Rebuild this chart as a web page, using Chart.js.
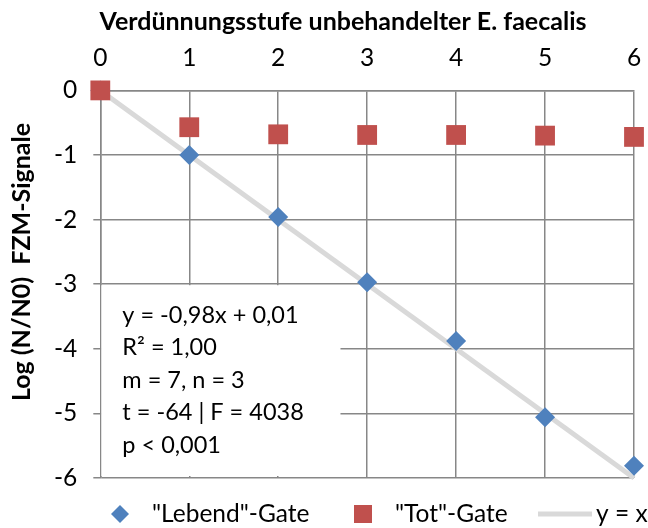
<!DOCTYPE html>
<html><head><meta charset="utf-8">
<script src="https://cdn.jsdelivr.net/npm/chart.js@4"></script>
<style>html,body{margin:0;padding:0;background:#fff;}#wrap{width:648px;height:528px;}</style>
</head><body><div id="wrap"><canvas id="c" width="648" height="528"></canvas></div>
<script>
const dilutionSteps = [0, 1, 2, 3, 4, 5, 6];
const liveGate = [0, -1.00, -1.96, -2.97, -3.88, -5.06, -5.81];
const deadGate = [0, -0.57, -0.68, -0.69, -0.69, -0.70, -0.72];
const identityX = [0, 6];
const identityY = [0, -6];
const xTickLabels = ['0', '1', '2', '3', '4', '5', '6'];
const yTickLabels = ['0', '-1', '-2', '-3', '-4', '-5', '-6'];
const seriesNames = ['"Lebend"-Gate', '"Tot"-Gate', 'y = x'];
const xTitle = 'Verdünnungsstufe unbehandelter E. faecalis';
const yTitle = 'Log (N/N0)  FZM-Signale';
const statsLines = ['y = -0,98x + 0,01', 'R² = 1,00', 'm = 7, n = 3', 't = -64 | F = 4038', 'p < 0,001'];

const FONT = 'Lato, "Open Sans", sans-serif';
const BLUE = '#4f81bd', RED = '#c0504d', LINEGRAY = '#d9d9d9', GRID = '#878787';

const toPts = (xs, ys) => xs.map((x, i) => ({x: x, y: ys[i]}));

const statsBox = {
  id: 'statsBox',
  beforeDatasetsDraw(chart) {
    const {ctx, scales: {x, y}} = chart;
    const left = x.getPixelForValue(0) + 1;
    const right = x.getPixelForValue(2.7);
    const top = y.getPixelForValue(-3) + 1;
    const bottom = y.getPixelForValue(-6) - 2;
    ctx.save();
    ctx.fillStyle = '#fff';
    ctx.fillRect(left, top, right - left, bottom - top);
    ctx.fillStyle = '#000';
    ctx.font = '23.5px ' + FONT;
    ctx.textBaseline = 'middle';
    ctx.textAlign = 'left';
    statsLines.forEach((t, i) => ctx.fillText(t, left + 21, top + 30 + i * 32.5));
    ctx.restore();
  }
};

const extras = {
  id: 'extras',
  afterDraw(chart) {
    const ctx = chart.ctx;
    ctx.save();
    ctx.font = 'bold 25px ' + FONT;
    ctx.fillStyle = '#000';
    ctx.textAlign = 'center';
    ctx.textBaseline = 'middle';
    ctx.fillText(xTitle, 343, 22);
    ctx.restore();
    ctx.save();
    ctx.translate(22, 262);
    ctx.rotate(-Math.PI / 2);
    ctx.font = 'bold 25px ' + FONT;
    ctx.fillStyle = '#000';
    ctx.textAlign = 'center';
    ctx.textBaseline = 'middle';
    ctx.fillText(yTitle, 0, 0);
    ctx.restore();
    ctx.save();
    const ly = 514;
    ctx.font = '24.5px ' + FONT;
    ctx.textBaseline = 'middle';
    ctx.textAlign = 'left';
    ctx.fillStyle = BLUE;
    ctx.beginPath();
    ctx.moveTo(120, ly - 9); ctx.lineTo(129, ly); ctx.lineTo(120, ly + 9); ctx.lineTo(111, ly);
    ctx.closePath(); ctx.fill();
    ctx.fillStyle = '#000';
    ctx.fillText(seriesNames[0], 152, ly);
    ctx.fillStyle = RED;
    ctx.fillRect(354, ly - 9, 18, 18);
    ctx.fillStyle = '#000';
    ctx.fillText(seriesNames[1], 395, ly);
    ctx.strokeStyle = LINEGRAY;
    ctx.lineWidth = 5;
    ctx.beginPath(); ctx.moveTo(538, ly); ctx.lineTo(592, ly); ctx.stroke();
    ctx.fillText(seriesNames[2], 596, ly);
    ctx.restore();
  }
};

new Chart(document.getElementById('c'), {
  type: 'scatter',
  data: {
    datasets: [
      {label: seriesNames[0], data: toPts(dilutionSteps, liveGate), pointStyle: 'rectRot', pointRadius: 10, pointHoverRadius: 10,
       backgroundColor: BLUE, borderColor: BLUE, borderWidth: 0, order: 1, clip: false},
      {label: seriesNames[1], data: toPts(dilutionSteps, deadGate), pointStyle: 'rect', pointRadius: 14, pointHoverRadius: 14,
       backgroundColor: RED, borderColor: RED, borderWidth: 0, order: 0, clip: false},
      {label: seriesNames[2], data: toPts(identityX, identityY), showLine: true, pointRadius: 0, pointHoverRadius: 0,
       borderColor: LINEGRAY, borderWidth: 5, backgroundColor: LINEGRAY, order: 2, clip: false}
    ]
  },
  options: {
    responsive: false,
    animation: false,
    devicePixelRatio: 1,
    layout: {autoPadding: false, padding: {left: 38, right: 14, top: 43.5, bottom: 50}},
    plugins: {legend: {display: false}, tooltip: {enabled: false}},
    scales: {
      x: {
        type: 'linear', position: 'top', min: 0, max: 6,
        ticks: {stepSize: 1, padding: 0, color: '#000', font: {family: FONT, size: 24.5},
                callback: (v) => xTickLabels[dilutionSteps.indexOf(v)]},
        grid: {color: GRID, lineWidth: 1.5, drawTicks: true, tickLength: 17.5, tickColor: 'rgba(0,0,0,0)'},
        border: {color: GRID, width: 1.5},
        title: {display: false}
      },
      y: {
        type: 'linear', min: -6, max: 0,
        ticks: {stepSize: 1, padding: 16, color: '#000', font: {family: FONT, size: 24.5},
                callback: (v) => yTickLabels[Math.round(-v)]},
        grid: {color: GRID, lineWidth: 1.5, tickLength: 7},
        border: {color: GRID, width: 1.5}
      }
    }
  },
  plugins: [statsBox, extras]
});
</script></body></html>
